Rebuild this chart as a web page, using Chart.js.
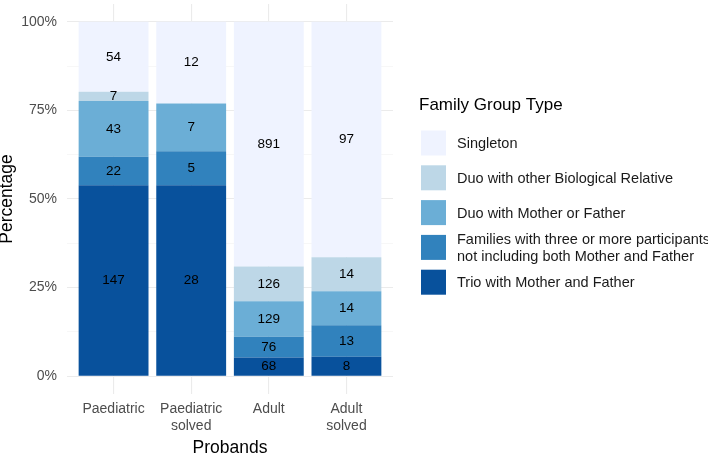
<!DOCTYPE html>
<html>
<head>
<meta charset="utf-8">
<script src="https://cdn.jsdelivr.net/npm/chart.js@4"></script>
<style>
  body { margin: 0; background: #fff; }
  canvas { display: block; }
</style>
</head>
<body>
<canvas id="chart" width="708" height="455"></canvas>
<script>
// probands groups on the x axis
const categories = [['Paediatric'], ['Paediatric', 'solved'], ['Adult'], ['Adult', 'solved']];

// counts per family group type, bottom of the stack first
const trio = [147, 28, 68, 8];
const families = [22, 5, 76, 13];
const duoParent = [43, 7, 129, 14];
const duoOther = [7, 0, 126, 14];
const singleton = [54, 12, 891, 97];

const groupLabels = [
    'Trio with Mother and Father',
    'Families with three or more participants\nnot including both Mother and Father',
    'Duo with Mother or Father',
    'Duo with other Biological Relative',
    'Singleton'
];
const groupColors = ['#08519C', '#3182BD', '#6BAED6', '#BDD7E7', '#EFF3FF'];
const yTicks = [0, 25, 50, 75, 100];

const FONT = '"Liberation Sans", Arial, sans-serif';
const series = [trio, families, duoParent, duoOther, singleton];
const totals = categories.map((c, i) => series.reduce((s, arr) => s + arr[i], 0));

const datasets = series.map((counts, k) => ({
    label: groupLabels[k],
    counts: counts,
    backgroundColor: groupColors[k],
    borderWidth: 0,
    categoryPercentage: 1,
    barPercentage: 0.9,
    data: counts.map((v, i) => ({ x: i, y: v / totals[i] * 100 }))
}));

// count labels in the middle of each segment
const segmentLabels = {
    id: 'segmentLabels',
    afterDatasetsDraw(chart) {
        const ctx = chart.ctx;
        ctx.save();
        ctx.font = '13.5px ' + FONT;
        ctx.fillStyle = '#000';
        ctx.textAlign = 'center';
        ctx.textBaseline = 'middle';
        chart.data.datasets.forEach((ds, k) => {
            chart.getDatasetMeta(k).data.forEach((bar, i) => {
                if (!ds.counts[i]) return;
                ctx.fillText(String(ds.counts[i]), bar.x, (bar.y + bar.base) / 2);
            });
        });
        ctx.restore();
    }
};

// ggplot-like legend on the right
const sideLegend = {
    id: 'sideLegend',
    afterDraw(chart) {
        const ctx = chart.ctx;
        ctx.save();
        ctx.fillStyle = '#000';
        ctx.textBaseline = 'middle';
        ctx.textAlign = 'left';
        ctx.font = '17px ' + FONT;
        ctx.fillText('Family Group Type', 419, 105);
        ctx.font = '14.5px ' + FONT;
        const items = chart.data.datasets.slice().reverse();
        items.forEach((ds, j) => {
            const top = 130.5 + j * 34.8;
            ctx.fillStyle = ds.backgroundColor;
            ctx.fillRect(421, top, 25, 25);
            ctx.fillStyle = '#1a1a1a';
            const lines = ds.label.split('\n');
            const mid = top + 13.5;
            lines.forEach((ln, n) => {
                ctx.fillText(ln, 457, mid + (n - (lines.length - 1) / 2) * 16.5);
            });
        });
        ctx.restore();
    }
};

new Chart(document.getElementById('chart'), {
    type: 'bar',
    data: { datasets: datasets },
    options: {
        responsive: false,
        devicePixelRatio: 1,
        animation: false,
        layout: { padding: { top: 4, right: 315, bottom: 0, left: 0 } },
        plugins: { legend: { display: false }, tooltip: { enabled: false } },
        scales: {
            x: {
                type: 'linear',
                stacked: true,
                offset: false,
                min: -0.6,
                max: 3.6,
                afterBuildTicks: (axis) => { axis.ticks = categories.map((c, i) => ({ value: i })); },
                afterFit: (axis) => {
                    axis.height = 61;
                    axis.paddingLeft = 0;
                    axis.paddingRight = 0;
                },
                border: { display: false },
                grid: { color: '#EBEBEB', lineWidth: 1.1, drawTicks: false, offset: false },
                ticks: {
                    autoSkip: false,
                    maxRotation: 0,
                    padding: 6,
                    color: '#4D4D4D',
                    font: { family: FONT, size: 14, lineHeight: 1.24 },
                    callback: (v) => categories[v]
                },
                title: {
                    display: true,
                    text: 'Probands',
                    color: '#000',
                    padding: 0,
                    font: { family: FONT, size: 17.5, lineHeight: 0.8 }
                }
            },
            y: {
                stacked: true,
                min: -5,
                max: 105,
                afterBuildTicks: (axis) => {
                    const t = [];
                    for (let v = 0; v <= 100; v += 12.5) t.push({ value: v });
                    axis.ticks = t;
                },
                afterFit: (axis) => {
                    axis.width = 67;
                    axis.paddingTop = 0;
                    axis.paddingBottom = 0;
                },
                border: { display: false },
                grid: {
                    drawTicks: false,
                    color: (c) => (yTicks.includes(c.tick.value) ? '#EBEBEB' : '#F2F2F2'),
                    lineWidth: (c) => (yTicks.includes(c.tick.value) ? 1.1 : 0.6)
                },
                ticks: {
                    padding: 10,
                    color: '#4D4D4D',
                    font: { family: FONT, size: 14 },
                    callback: (v) => (yTicks.includes(v) ? v + '%' : '')
                },
                title: {
                    display: true,
                    text: 'Percentage',
                    color: '#000',
                    padding: 0,
                    font: { family: FONT, size: 17.5, lineHeight: 0.85 }
                }
            }
        }
    },
    plugins: [segmentLabels, sideLegend]
});
</script>
</body>
</html>
